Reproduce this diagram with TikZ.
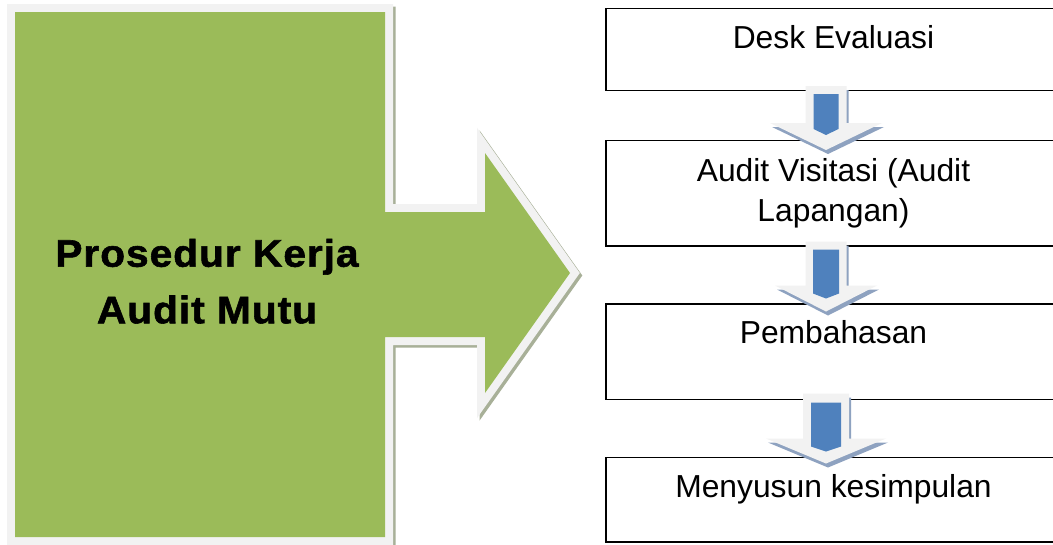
\documentclass[tikz,border=0pt]{standalone}
\usepackage{fontspec}
\setmainfont{Liberation Sans}
\newfontfamily\titlefont{Liberation Sans}[LetterSpace=2.5, FakeStretch=1.06]
\newfontfamily\titlefontbold{Liberation Sans Bold}[LetterSpace=2.5, FakeStretch=1.06, FakeBold=1.5]
\definecolor{greenc}{HTML}{9BBB59}
\definecolor{framec}{HTML}{F2F2F2}
\definecolor{gshadowc}{RGB}{168,176,152}
\definecolor{bluec}{HTML}{4F81BD}
\definecolor{aframec}{HTML}{F2F2F2}
\definecolor{ashadowc}{HTML}{8EA2C0}
\tikzset{
  boxst/.style={draw=black, line width=1.8pt, rectangle, inner sep=0pt, minimum width=457pt, anchor=north west},
  boxtext/.style={anchor=base, inner sep=0pt, font=\fontsize{31.8}{38}\selectfont},
  titletext/.style={anchor=base, inner sep=0pt, font=\titlefontbold\fontsize{38.4}{46}\selectfont},
  pics/dblock/.style args={#1/#2/#3/#4/#5/#6/#7/#8}{code={
    \fill[ashadowc, shift={(2pt,-4pt)}] (-#1,0) -- (#1,0) -- (#1,#2) -- (#3,#2) -- (0,#4) -- (-#3,#2) -- (-#1,#2) -- cycle;
    \fill[aframec] (-#1,0) -- (#1,0) -- (#1,#2) -- (#3,#2) -- (0,#4) -- (-#3,#2) -- (-#1,#2) -- cycle;
    \fill[bluec] (-#5,#6) -- (#5,#6) -- (#5,#7) -- (0,#8) -- (-#5,#7) -- cycle;
  }}
}
\begin{document}
\begin{tikzpicture}[x=1pt, y=-1pt]
\useasboundingbox[fill=white] (0,0) rectangle (1053,544);
% big green callout arrow
\path[fill=greenc,
  preaction={draw=gshadowc, fill=gshadowc, line width=16pt, transform canvas={shift={(2.5pt,-2.5pt)}}},
  preaction={draw=framec, line width=16pt}]
  (15,12) -- (385,12) -- (385,212) -- (485,212) -- (485,153) -- (570,273)
  -- (485,393) -- (485,337) -- (385,337) -- (385,537) -- (15,537) -- cycle;
\node[titletext] (title1) at (207,266.7) {Prosedur Kerja};
\node[titletext] (title2) at (207,323.3) {Audit Mutu};
% boxes
\node[boxst, minimum height=82pt] (b1) at (605,7.6) {};
\node[boxst, minimum height=105.4pt] (b2) at (605,139.6) {};
\node[boxst, minimum height=95.6pt] (b3) at (605,303) {};
\node[boxst, minimum height=84.4pt] (b4) at (605,456.6) {};
% block arrows
\pic at (826,86) {dblock=20.5/37/56/64/12.5/8/43/49};
\pic at (826,241.5) {dblock=20.5/44/51/70/13/8/52/57};
\pic at (826,393.5) {dblock=23/45/60/70/15/9/53/58};
% texts
\node[boxtext] (t1) at (833.5,48.6) {Desk Evaluasi};
\node[boxtext] (t2a) at (833.5,181.7) {Audit Visitasi (Audit};
\node[boxtext] (t2b) at (833.5,221.7) {Lapangan)};
\node[boxtext] (t3) at (833.5,343.8) {Pembahasan};
\node[boxtext] (t4) at (833.5,497.2) {Menyusun kesimpulan};
\end{tikzpicture}
\end{document}
